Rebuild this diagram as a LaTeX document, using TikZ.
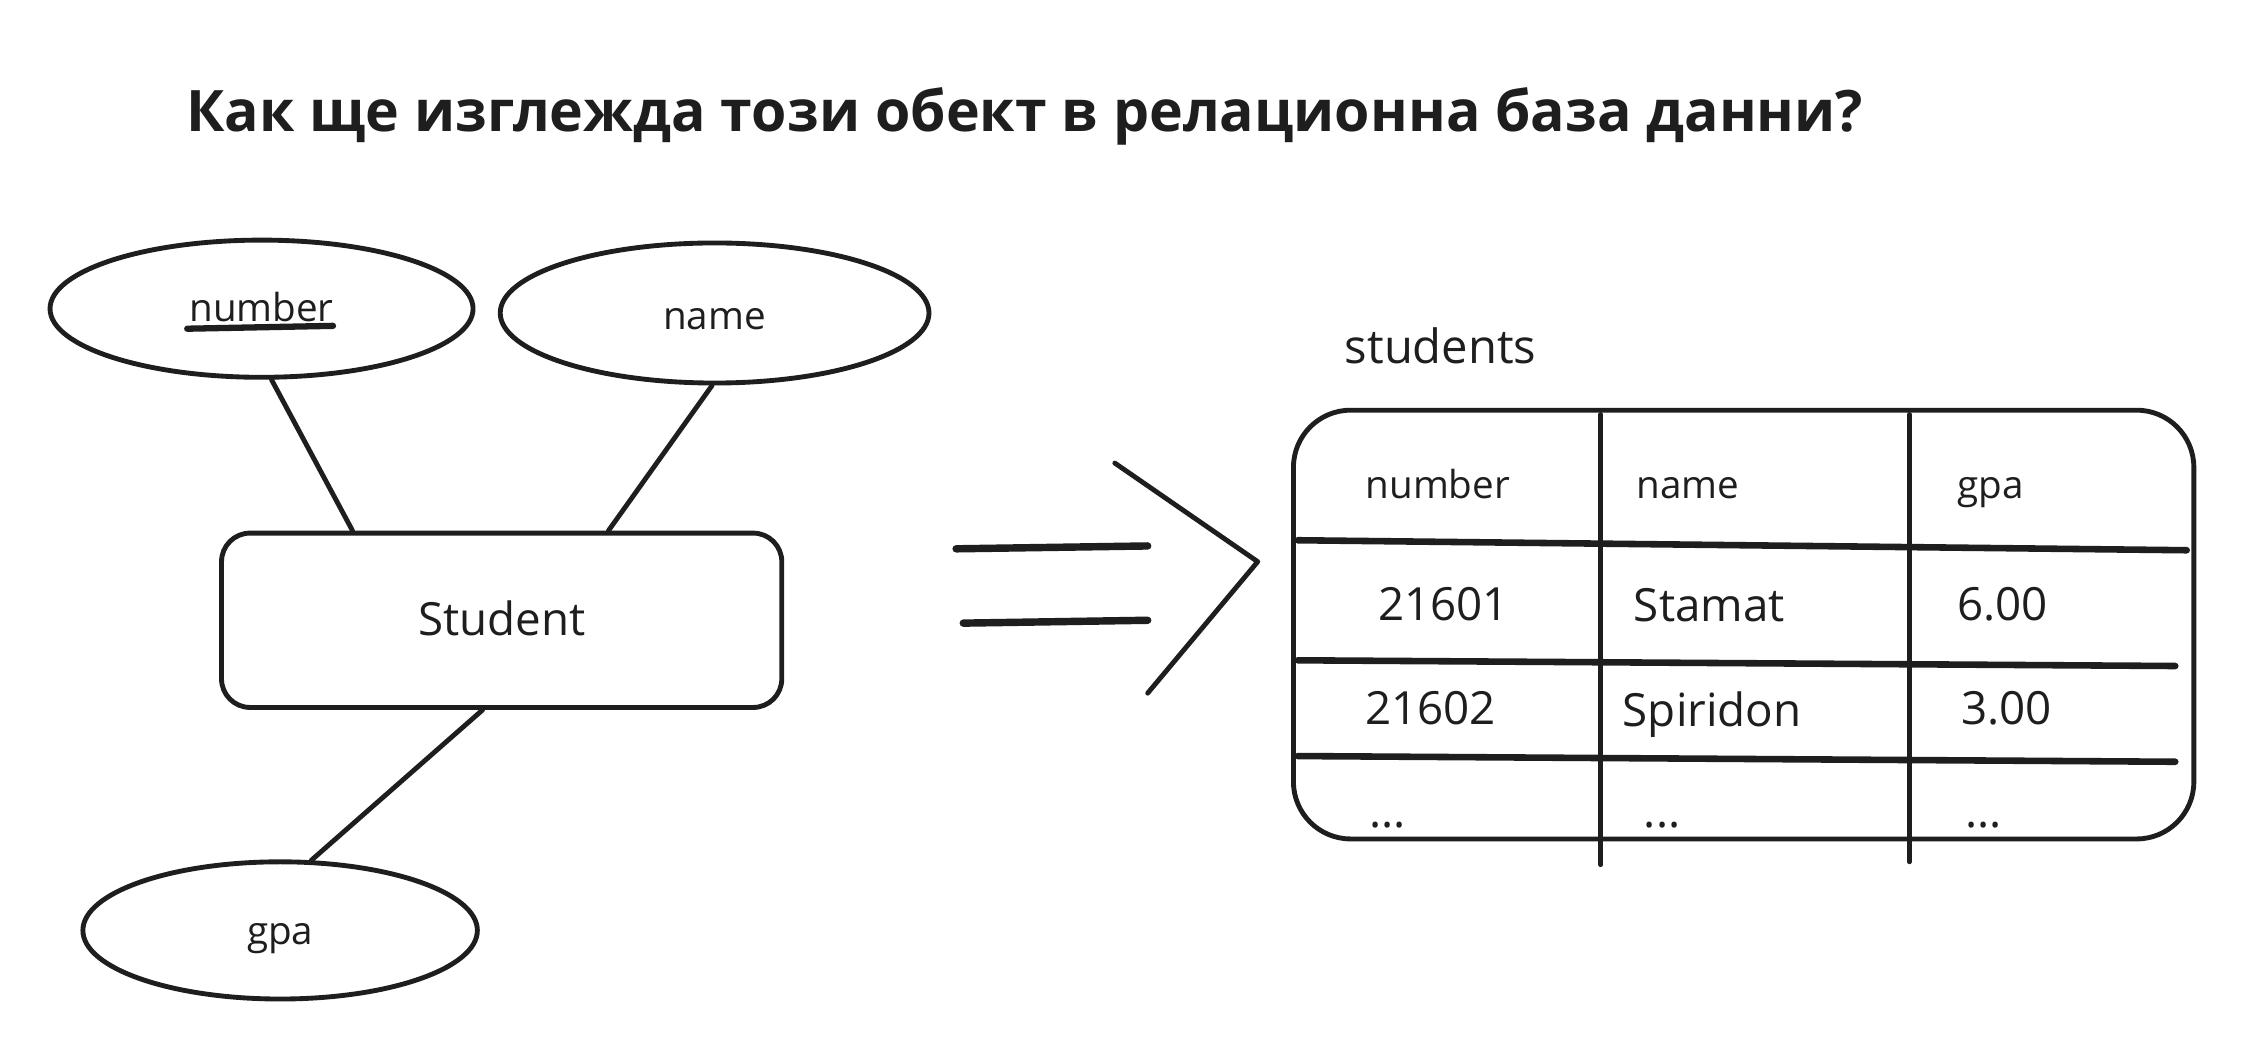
\documentclass[tikz,border=0pt]{standalone}
\usepackage{fontspec}
\setmainfont{Open Sans}
\usetikzlibrary{shapes.geometric}
\definecolor{ink}{HTML}{1E1E1E}
\begin{document}
\begin{tikzpicture}[x=0.5pt,y=-0.5pt,
  inkline/.style={draw=ink, line width=1.7pt, line cap=round, line join=round},
  thickline/.style={draw=ink, line width=2.3pt, line cap=round},
  attr/.style={ellipse, inkline, inner sep=0pt, font=\fontsize{13.5}{15}\selectfont, text=ink},
  entity/.style={rectangle, rounded corners=10pt, inkline, inner sep=0pt, font=\fontsize{16}{18}\selectfont, text=ink},
  cell/.style={anchor=base, inner sep=0pt, font=\fontsize{13.5}{15}\selectfont, text=ink},
  datacell/.style={cell, font=\fontsize{16}{18}\selectfont},
  titletext/.style={anchor=base west, inner sep=0pt, font=\fontsize{20}{24}\selectfont\bfseries, text=ink}]
\useasboundingbox[fill=white] (0,0) rectangle (1568,737);

% title
\node[titletext] (title) at (130,92) {Как ще изглежда този обект в релационна база данни?};

% ER diagram
\node[attr, minimum width=148pt, minimum height=48pt] (num) at (183,216) {\raisebox{0.5pt}[\height][\depth]{number}};
\node[attr, minimum width=150pt, minimum height=49pt] (nam) at (500,219) {\raisebox{-2pt}[\height][\depth]{name}};
\node[entity, minimum width=196pt, minimum height=61pt] (stu) at (351,434) {\raisebox{0.5pt}[\height][\depth]{Student}};
\node[attr, minimum width=138pt, minimum height=48pt] (gpa) at (196,651) {\raisebox{-3pt}[\height][\depth]{gpa}};
\draw[thickline, line width=2.2pt] (131,230) -- (233,228);

\draw[inkline] (num.-82) -- (stu.149);
\draw[inkline] (nam.-92) -- (stu.40);
\draw[inkline] (stu.-102) -- (gpa.66);

% arrow symbol
\coordinate (tip) at (880,393);
\draw[thickline, line width=2.6pt] (669,384) -- (803,382);
\draw[thickline, line width=2.6pt] (674,436) -- (803,434);
\draw[inkline] (780,324) -- (tip) -- (803,485);

% table
\node[cell, font=\fontsize{16.5}{18}\selectfont] (tname) at (1008,254) {students};
\draw[inkline] (905,287) [rounded corners=20pt] rectangle (1535,587);
\draw[inkline] (1120,290) -- (1120,605);
\draw[inkline] (1336,290) -- (1336,603);
\draw[thickline] (908,378) -- (1530,385);
\draw[thickline] (908,462) -- (1522,466);
\draw[thickline] (908,529) -- (1522,533);

\node[cell] (h1) at (1006,349) {number};
\node[cell] (h2) at (1181,349) {name};
\node[cell] (h3) at (1393,349) {gpa};
\node[datacell] (a1) at (1010,434) {21601};
\node[datacell] (a2) at (1196,435) {Stamat};
\node[datacell] (a3) at (1401,434) {6.00};
\node[datacell] (b1) at (1001,507) {21602};
\node[datacell] (b2) at (1198,508) {Spiridon};
\node[datacell] (b3) at (1404,507) {3.00};
\node[datacell] (c1) at (971,579) {...};
\node[datacell] (c2) at (1163,579) {...};
\node[datacell] (c3) at (1388,579) {...};
\end{tikzpicture}
\end{document}
